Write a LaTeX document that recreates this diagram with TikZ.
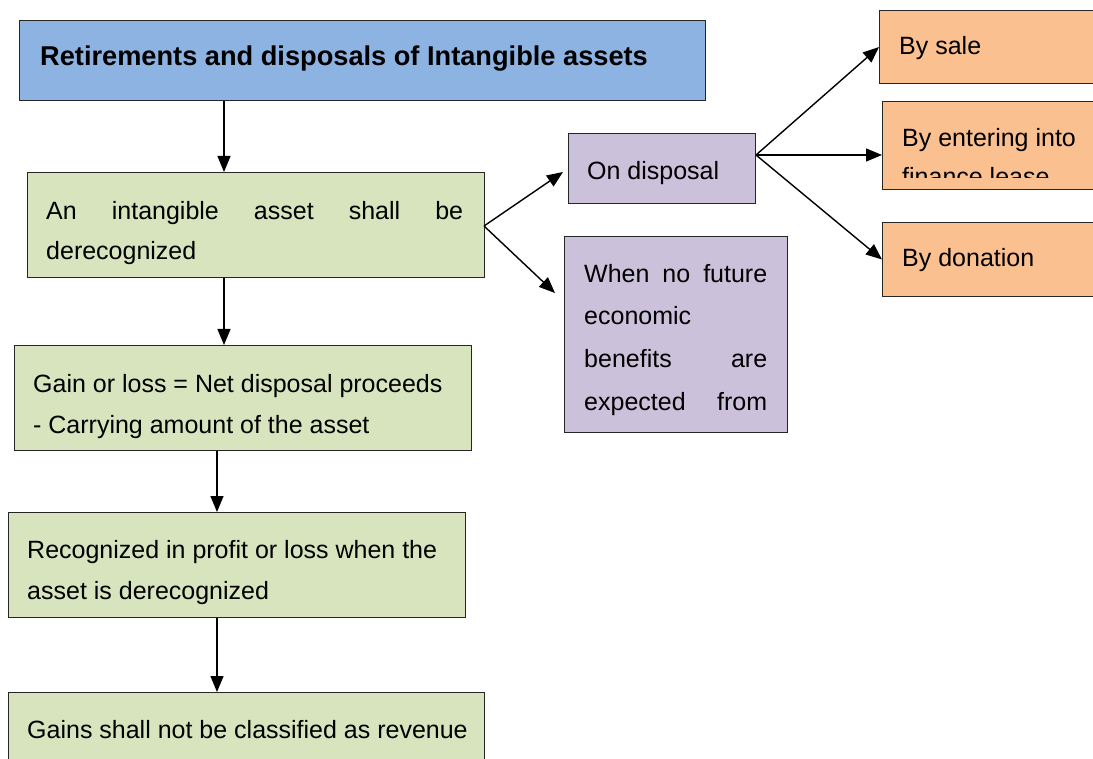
\documentclass[tikz,border=0pt]{standalone}
\usepackage{fontspec}
\setmainfont{Liberation Sans}
\usetikzlibrary{arrows.meta}
\definecolor{tblue}{RGB}{141,179,226}
\definecolor{tgreen}{RGB}{215,228,189}
\definecolor{tpurple}{RGB}{204,193,218}
\definecolor{torange}{RGB}{250,192,144}
\begin{document}
\begin{tikzpicture}[x=1pt,y=-1pt,
  boxbase/.style={draw=black!85, line width=1pt, rectangle, anchor=north west, inner sep=0pt},
  bluebox/.style={boxbase, fill=tblue},
  greenbox/.style={boxbase, fill=tgreen},
  purplebox/.style={boxbase, fill=tpurple},
  orangebox/.style={boxbase, fill=torange},
  txt/.style={anchor=base west, inner sep=0pt, font=\fontsize{25}{30}\selectfont},
  ttl/.style={anchor=base west, inner sep=0pt, font=\fontsize{27.2}{32}\selectfont\bfseries},
  arr/.style={-{Triangle[length=16pt,width=13pt]}, line width=1.4pt}]
\useasboundingbox (0,0) rectangle (1093,759);
\clip (0,0) rectangle (1093,759);
% boxes
\node[bluebox, minimum width=686pt, minimum height=80pt] (T) at (19,20) {};
\node[greenbox, minimum width=457pt, minimum height=105pt] (A) at (27,172) {};
\node[greenbox, minimum width=457pt, minimum height=105pt] (B) at (14,345) {};
\node[greenbox, minimum width=457pt, minimum height=105pt] (C) at (8,512) {};
\node[greenbox, minimum width=476pt, minimum height=90pt] (D) at (8,692) {};
\node[purplebox, minimum width=187pt, minimum height=70pt] (OD) at (568,133) {};
\node[purplebox, minimum width=223pt, minimum height=196pt] (WN) at (564,236) {};
\node[orangebox, minimum width=230pt, minimum height=73pt] (SALE) at (879,10) {};
\node[orangebox, minimum width=230pt, minimum height=88pt] (ENT) at (882,101) {};
\node[orangebox, minimum width=230pt, minimum height=74pt] (DON) at (882,222) {};
% texts
\node[ttl] (tT) at (40,66) {Retirements and disposals of Intangible assets};
\node[txt] (tA1) at (46,220) {\hbox to 417pt{An\hfill intangible\hfill asset\hfill shall\hfill be}};
\node[txt] (tA2) at (46,260) {derecognized};
\node[txt] (tB1) at (33,392) {Gain or loss = Net disposal proceeds};
\node[txt] (tB2) at (33,433) {- Carrying amount of the asset};
\node[txt] (tC1) at (27,558) {Recognized in profit or loss when the};
\node[txt] (tC2) at (27,599) {asset is derecognized};
\node[txt] (tD1) at (27,738) {Gains shall not be classified as revenue};
\node[txt] (tOD) at (587,180) {On disposal};
\node[txt] (tW1) at (584,283) {\hbox to 183pt{When\hfill no\hfill future}};
\node[txt] (tW2) at (584,325) {economic};
\node[txt] (tW3) at (584,368) {\hbox to 183pt{benefits\hfill are}};
\node[txt] (tW4) at (584,410) {\hbox to 183pt{expected\hfill from}};
\node[txt] (tS) at (899,55) {By sale};
\node[txt] (tE1) at (902,147) {By entering into};
\begin{scope}
\clip (882,101) rectangle (1093,178);
\node[txt] (tE2) at (902,186) {finance lease};
\end{scope}
\node[txt] (tDn) at (902,267) {By donation};
% connectors
\coordinate (c1) at (224,0);
\coordinate (c2) at (217,0);
\draw[arr] (c1 |- T.south) -- (c1 |- A.north);
\draw[arr] (c1 |- A.south) -- (c1 |- B.north);
\draw[arr] (c2 |- B.south) -- (c2 |- C.north);
\draw[arr] (c2 |- C.south) -- (c2 |- D.north);
\coordinate (aout) at (484,226);
\coordinate (odtip) at (563,172);
\coordinate (wntip) at (555,293);
\draw[arr] (aout) -- (odtip);
\draw[arr] (aout) -- (wntip);
\coordinate (odout) at (756,155);
\draw[arr] (odout) -- (SALE.west);
\draw[arr] (odout) -- (odout -| ENT.west);
\draw[arr] (odout) -- (DON.west);
\end{tikzpicture}
\end{document}
